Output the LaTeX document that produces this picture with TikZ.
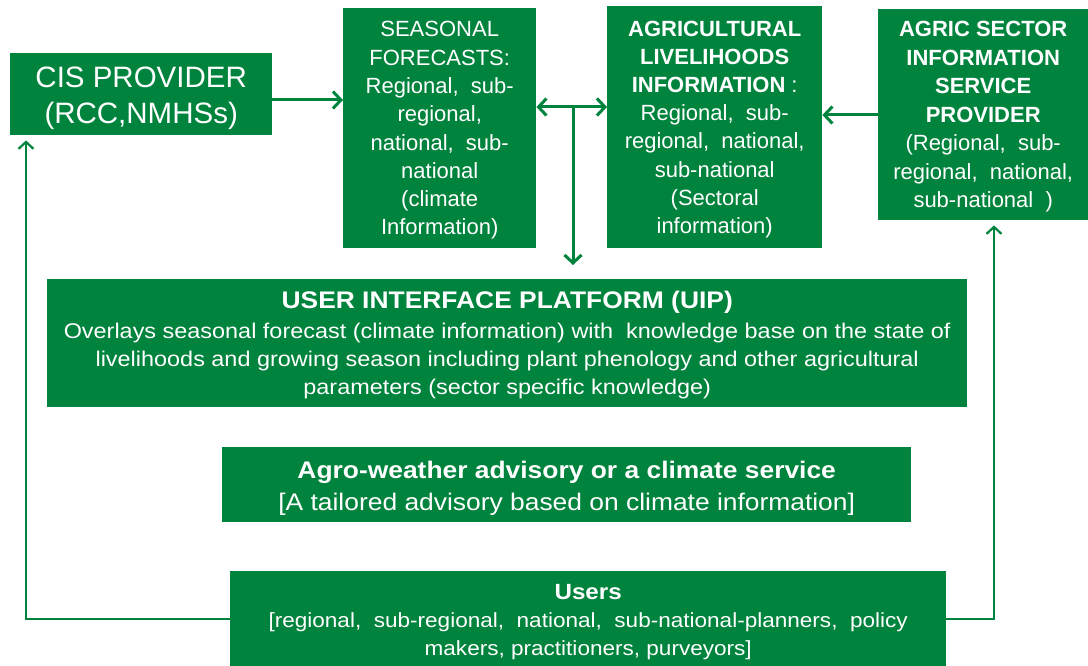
\documentclass[tikz,border=0pt]{standalone}
\usepackage{fontspec}
\setmainfont{Liberation Sans}
\newfontfamily\widesans{Liberation Sans}[FakeStretch=1.1]
\usetikzlibrary{arrows.meta}
\definecolor{leaf}{RGB}{0,131,61}
\newcommand{\fs}[2]{\fontsize{#1}{#2}\selectfont}
\tikzset{
  gbox/.style={fill=leaf, text=white, inner sep=0pt, align=center, anchor=north west},
  link/.style={draw=leaf, line width=3pt, line cap=round, -{Straight Barb[length=8pt,width=17pt,line width=3pt]}},
  dlink/.style={link, {Straight Barb[length=8pt,width=17pt,line width=3pt]}-{Straight Barb[length=8pt,width=17pt,line width=3pt]}},
  thin link/.style={draw=leaf, line width=2.2pt, -{Straight Barb[length=7pt,width=15pt,line width=2.2pt]}},
}
\begin{document}
\begin{tikzpicture}[x=1pt,y=-1pt]
\useasboundingbox (0,0) rectangle (1088,666);

% top row
\node[gbox, font=\fs{29.5}{36}, minimum width=262pt, minimum height=82pt] (cis) at (10,53)
  {\rule{0pt}{28pt}CIS PROVIDER\\(RCC,NMHSs)};
\node[gbox, font=\fs{22}{28.3}, minimum width=193pt, minimum height=240pt] (seas) at (343,8)
  {\rule{0pt}{20pt}SEASONAL\\FORECASTS:\\Regional,\ \ sub-\\regional,\\national,\ \ sub-\\national\\(climate\\Information)};
\node[gbox, font=\fs{22}{28.1}, minimum width=215pt, minimum height=242pt] (agri) at (607,6)
  {\rule{0pt}{20pt}\textbf{AGRICULTURAL}\\\textbf{LIVELIHOODS}\\\textbf{INFORMATION} :\\Regional,\ \ sub-\\regional,\ \ national,\\sub-national\\(Sectoral\\information)};
\node[gbox, font=\fs{22}{28.5}, minimum width=210pt, minimum height=211pt] (prov) at (878,9)
  {\rule{0pt}{20pt}\textbf{AGRIC SECTOR}\\\textbf{INFORMATION}\\\textbf{SERVICE}\\\textbf{PROVIDER}\\(Regional,\ \ sub-\\regional,\ \ national,\\sub-national\ \ )};

% platform, advisory and users
\node[gbox, font=\widesans\fs{21.3}{28}, minimum width=920pt, minimum height=128pt] (uip) at (47,279)
  {\rule{0pt}{22pt}\fs{24}{30}\textbf{USER INTERFACE PLATFORM (UIP)}\\[2pt]
   Overlays seasonal forecast (climate information) with\ \ knowledge base on the state of\\
   livelihoods and growing season including plant phenology and other agricultural\\
   parameters (sector specific knowledge)};
\node[gbox, font=\widesans\fs{24}{32}, minimum width=689pt, minimum height=75pt] (agro) at (222,447)
  {\rule{0pt}{24pt}\textbf{Agro-weather advisory or a climate service}\\
   {[}A tailored advisory based on climate information{]}};
\node[gbox, font=\widesans\fs{20.5}{28.4}, minimum width=716pt, minimum height=95pt] (users) at (230,571)
  {\rule{0pt}{22pt}\fs{22}{28.4}\textbf{Users}\\
   {[}regional,\ \ sub-regional,\ \ national,\ \ sub-national-planners,\ \ policy\\
   makers, practitioners, purveyors{]}};

% connectors
\coordinate (ya) at (0,100);
\coordinate (yb) at (0,107);
\coordinate (yc) at (0,115);
\coordinate (yu) at (0,619);
\coordinate (split) at (573,107);
\coordinate (lft) at (26,0);
\coordinate (rgt) at (994,0);

\draw[link] (cis.east |- ya) -- (seas.west |- ya);
\draw[dlink] (seas.east |- yb) -- (agri.west |- yb);
\draw[link, shorten >=14pt] (split) -- (split |- uip.north);
\draw[link] (prov.west |- yc) -- (agri.east |- yc);
\draw[thin link, shorten >=5pt] (users.west |- yu) -- (lft |- yu) -- (lft |- cis.south);
\draw[thin link, shorten >=5pt] (users.east |- yu) -- (rgt |- yu) -- (rgt |- prov.south);
\end{tikzpicture}
\end{document}
